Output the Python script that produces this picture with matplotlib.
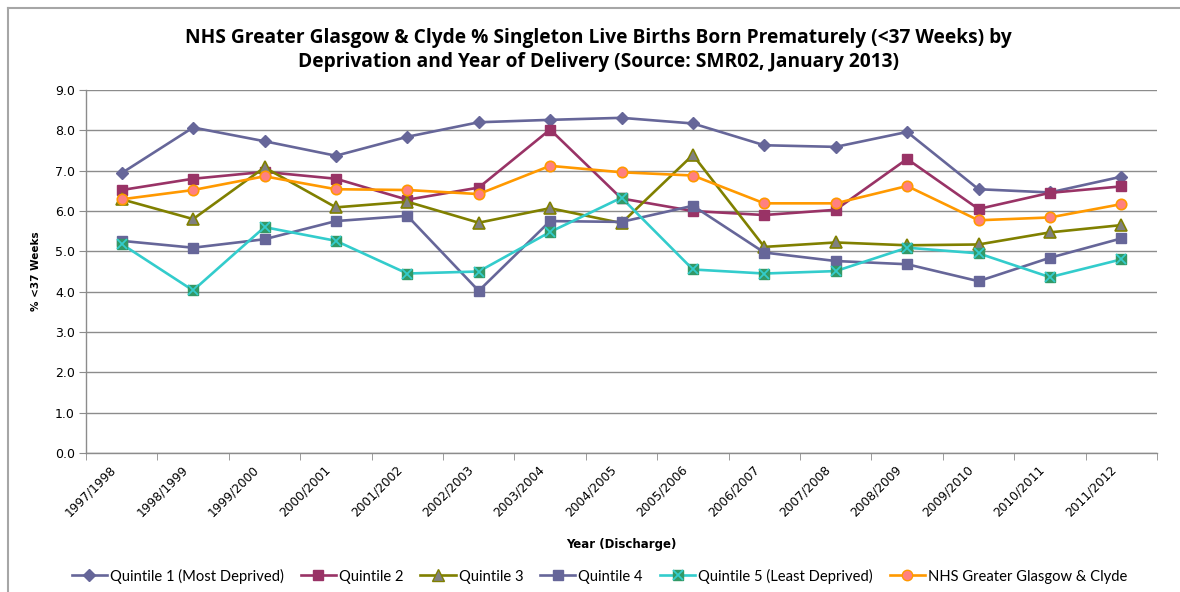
import matplotlib
matplotlib.use("Agg")
import matplotlib.pyplot as plt
from matplotlib.lines import Line2D
from matplotlib.transforms import ScaledTranslation

years = ["1997/1998", "1998/1999", "1999/2000", "2000/2001", "2001/2002",
         "2002/2003", "2003/2004", "2004/2005", "2005/2006", "2006/2007",
         "2007/2008", "2008/2009", "2009/2010", "2010/2011", "2011/2012"]

q1 = [6.94, 8.07, 7.73, 7.37, 7.84, 8.20, 8.26, 8.31, 8.17, 7.63, 7.59, 7.96, 6.54, 6.46, 6.85]
q2 = [6.52, 6.80, 6.97, 6.80, 6.28, 6.58, 8.02, 6.31, 6.00, 5.90, 6.03, 7.29, 6.05, 6.45, 6.61]
q3 = [6.29, 5.80, 7.08, 6.09, 6.23, 5.71, 6.07, 5.70, 7.39, 5.11, 5.22, 5.15, 5.17, 5.47, 5.65]
q4 = [5.26, 5.09, 5.30, 5.75, 5.88, 4.02, 5.75, 5.73, 6.13, 4.97, 4.76, 4.68, 4.26, 4.84, 5.32]
q5 = [5.18, 4.03, 5.60, 5.26, 4.45, 4.50, 5.48, 6.33, 4.55, 4.45, 4.51, 5.09, 4.95, 4.36, 4.80]
nhs = [6.29, 6.52, 6.86, 6.54, 6.52, 6.42, 7.12, 6.96, 6.88, 6.19, 6.19, 6.62, 5.77, 5.84, 6.17]

labels = ["Quintile 1 (Most Deprived)", "Quintile 2", "Quintile 3", "Quintile 4",
          "Quintile 5 (Least Deprived)", "NHS Greater Glasgow & Clyde"]

W, H = 1180, 592
fig = plt.figure(figsize=(W / 100, H / 100), dpi=100)
fig.patch.set_facecolor("white")

# outer chart border (left + top visible)
fig.add_artist(Line2D([8 / W, 8 / W], [0, 1 - 8 / H], transform=fig.transFigure,
                      color="#A6A6A6", lw=1.5))
fig.add_artist(Line2D([8 / W, 1], [1 - 8 / H, 1 - 8 / H], transform=fig.transFigure,
                      color="#A6A6A6", lw=1.5))

ax = fig.add_axes([86 / W, (H - 453) / H, (1157 - 86) / W, (453 - 90) / H])
x = list(range(len(years)))
lw = 1.9

ax.plot(x, q1, color="#666699", lw=lw, marker="D", ms=6, mfc="#666699", mec="#666699", zorder=3)
ax.plot(x, q2, color="#993366", lw=lw, marker="s", ms=7.5, mfc="#993366", mec="#993366", zorder=4)
ax.plot(x, q3, color="#808000", lw=lw, marker="^", ms=8.5, mfc="#808080", mec="#808000", mew=1.2, zorder=5)
ax.plot(x, q4, color="#666699", lw=lw, marker="s", ms=7.5, mfc="#666699", mec="#666699", zorder=6)
ax.plot(x, q5, color="#33CCCC", lw=lw, marker="s", ms=7.5, mfc="#339966", mec="#339966", zorder=7)
ax.plot(x, q5, color="none", lw=0, marker="x", ms=6.5, mec="#33CCCC", mew=1.3, zorder=7.5)
ax.plot(x, nhs, color="#FF9900", lw=lw, marker="o", ms=7.5, mfc="#FF8080", mec="#FF9900", mew=1.2, zorder=8)

ax.set_xlim(-0.5, len(years) - 0.5)
ax.set_ylim(0, 9)
ax.set_yticks([i for i in range(10)])
ax.set_yticklabels([f"{i:.1f}" for i in range(10)], fontsize=9, family="DejaVu Sans")
ax.yaxis.grid(True, color="#8C8C8C", lw=1)
ax.set_axisbelow(True)
ax.tick_params(axis="y", length=5, color="#8C8C8C", pad=3)

ax.set_xticks(x)
ax.set_xticks([i - 0.5 for i in range(len(years) + 1)], minor=True)
ax.tick_params(axis="x", which="major", length=0, pad=7)
ax.tick_params(axis="x", which="minor", length=5, color="#8C8C8C")
ax.set_xticklabels(years, rotation=45, ha="right", rotation_mode="anchor",
                   fontsize=8.8, family="DejaVu Sans")
offset = ScaledTranslation(-12 / 100, 0, fig.dpi_scale_trans)
for lab in ax.get_xticklabels():
    lab.set_transform(lab.get_transform() + offset)

for s in ["top", "right"]:
    ax.spines[s].set_visible(False)
for s in ["left", "bottom"]:
    ax.spines[s].set_color("#8C8C8C")
    ax.spines[s].set_linewidth(1)

ax.set_xlabel("Year (Discharge)", fontsize=8.5, fontweight="bold", family="DejaVu Sans", labelpad=14)
ax.set_ylabel("% <37 Weeks", fontsize=7.5, fontweight="bold", family="DejaVu Sans", labelpad=10)

fig.text(0.507, 1 - 38 / H, "NHS Greater Glasgow & Clyde % Singleton Live Births Born Prematurely (<37 Weeks) by",
         ha="center", va="center", fontsize=13.8, fontweight="bold", family="Open Sans")
fig.text(0.507, 1 - 62 / H, "Deprivation and Year of Delivery (Source: SMR02, January 2013)",
         ha="center", va="center", fontsize=13.8, fontweight="bold", family="Open Sans")

h1 = Line2D([], [], color="#666699", lw=lw, marker="D", ms=6, mfc="#666699", mec="#666699")
h2 = Line2D([], [], color="#993366", lw=lw, marker="s", ms=7.5, mfc="#993366", mec="#993366")
h3 = Line2D([], [], color="#808000", lw=lw, marker="^", ms=8.5, mfc="#808080", mec="#808000")
h4 = Line2D([], [], color="#666699", lw=lw, marker="s", ms=7.5, mfc="#666699", mec="#666699")
h5a = Line2D([], [], color="#33CCCC", lw=lw, marker="s", ms=7.5, mfc="#339966", mec="#339966")
h5b = Line2D([], [], color="none", lw=0, marker="x", ms=6.5, mec="#33CCCC", mew=1.3)
h6 = Line2D([], [], color="#FF9900", lw=lw, marker="o", ms=7.5, mfc="#FF8080", mec="#FF9900")

fig.legend([h1, h2, h3, h4, (h5a, h5b), h6], labels, loc="center", ncol=6,
           bbox_to_anchor=(0.508, 1 - 576 / H), frameon=False,
           prop={"family": "Lato", "size": 10.6}, handlelength=2.4, handletextpad=0.2,
           columnspacing=1.15)

fig.savefig("out.png", dpi=100, facecolor="white")
